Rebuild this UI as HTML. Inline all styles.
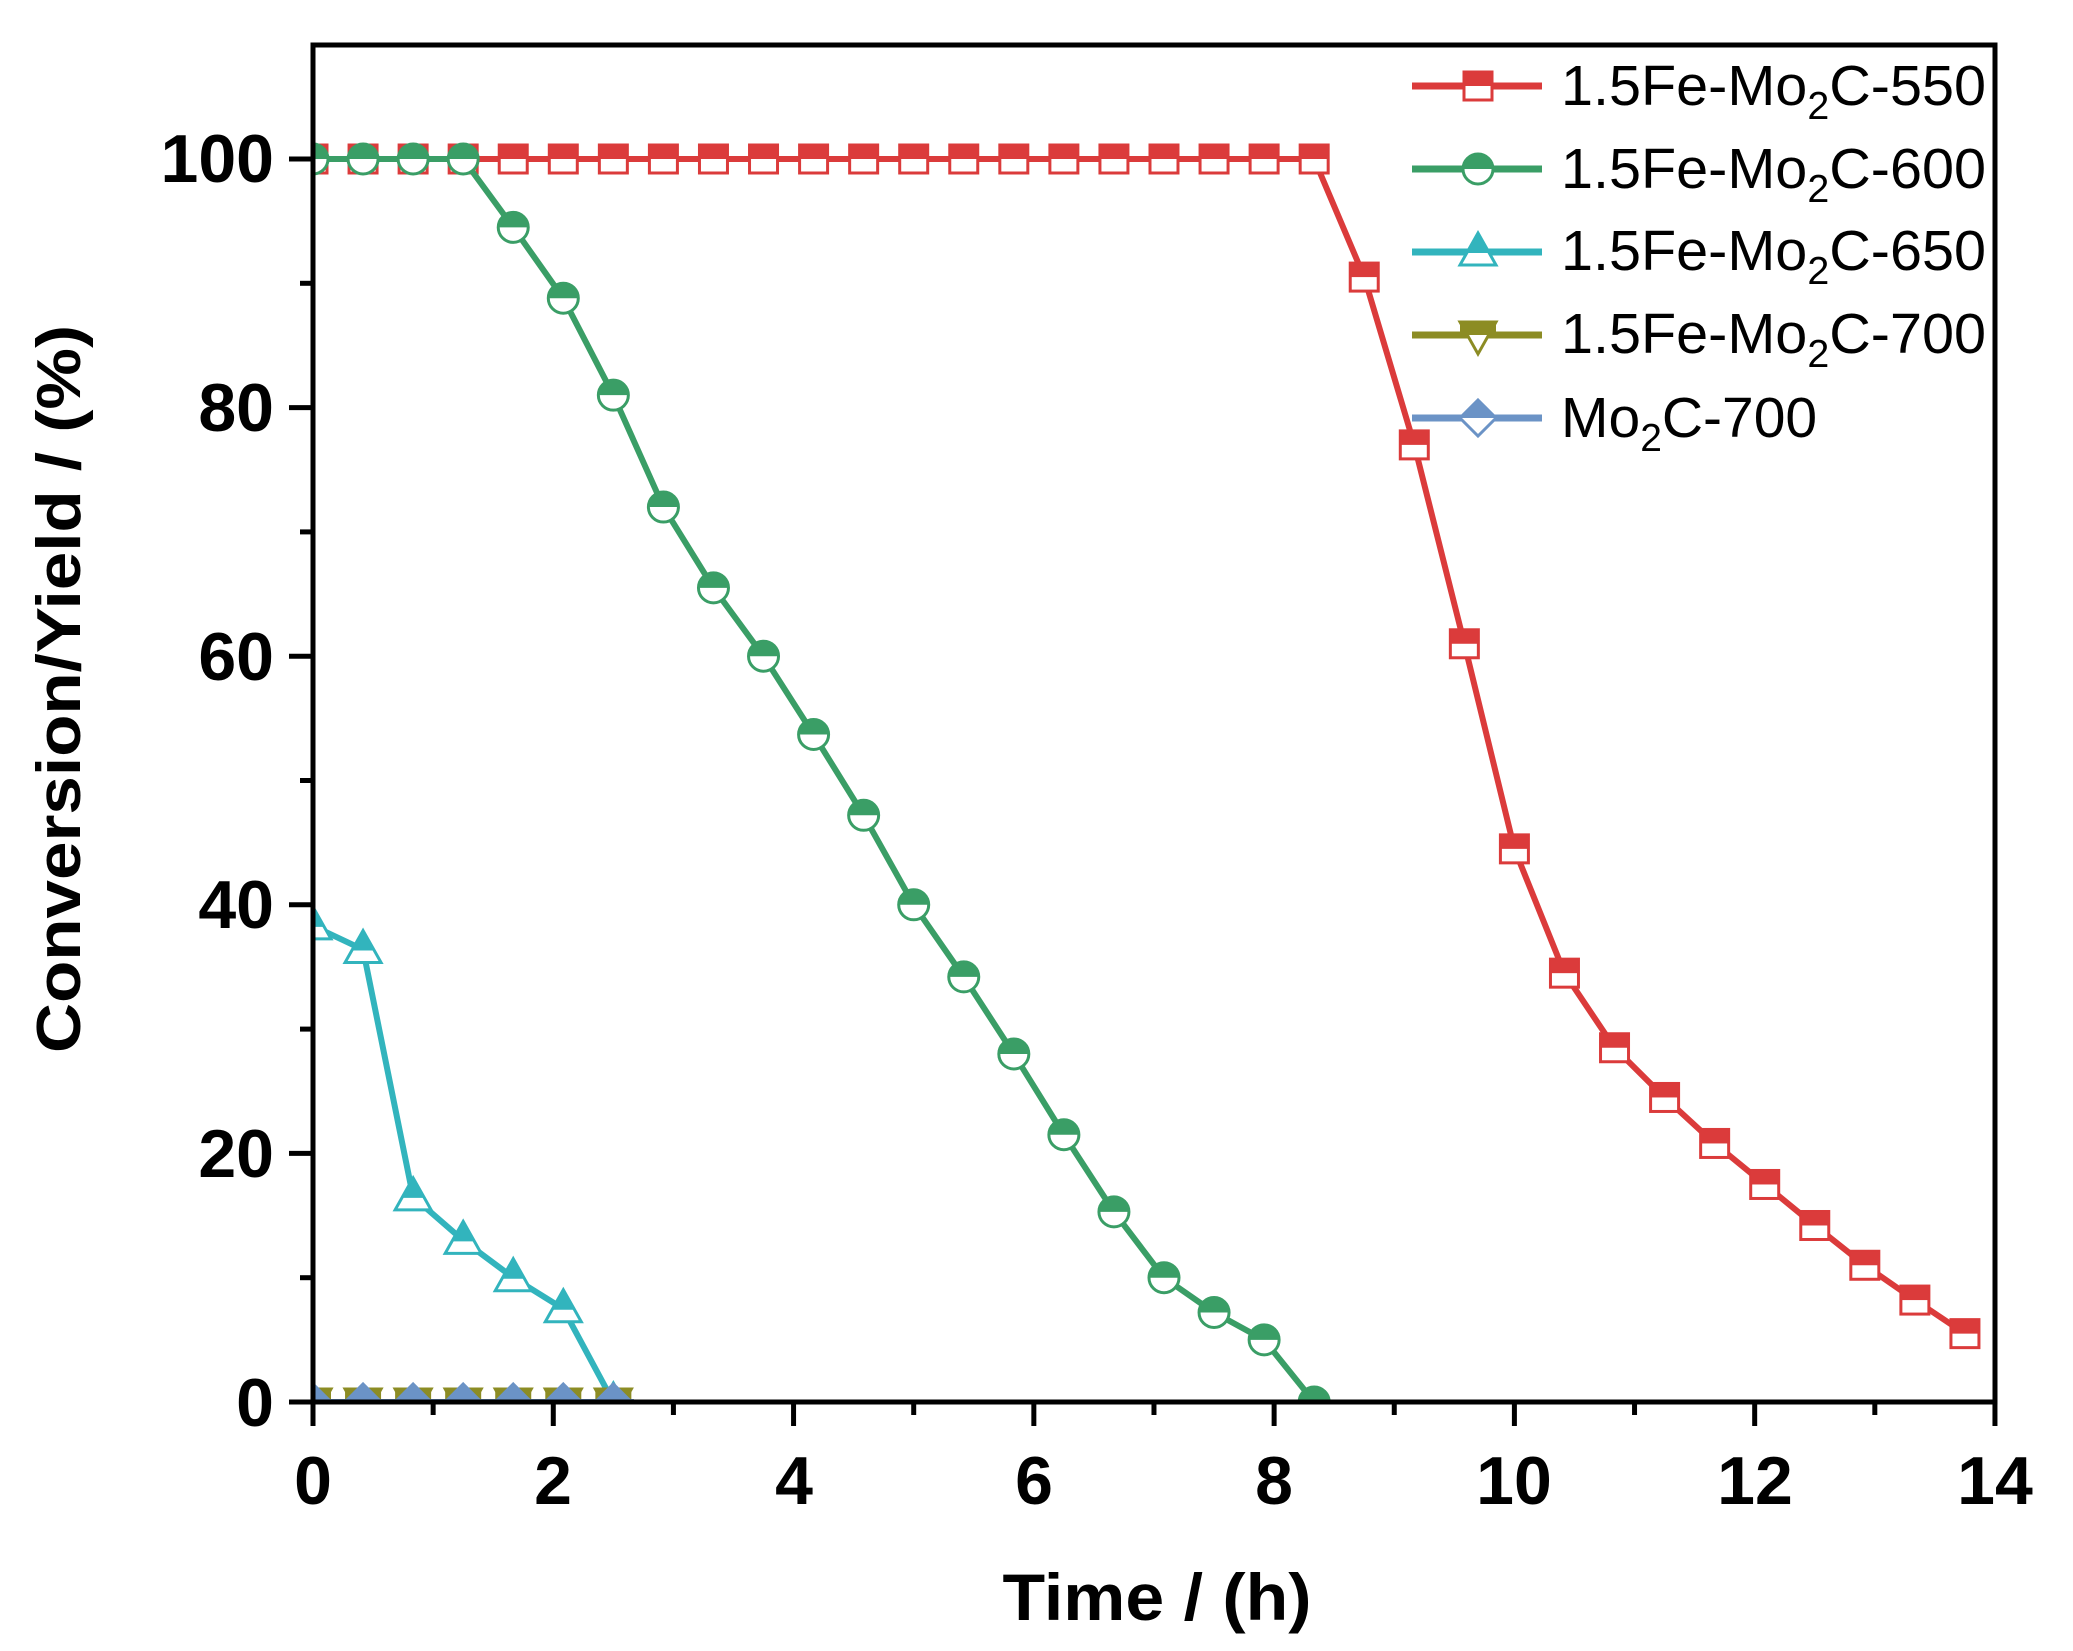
<!DOCTYPE html>
<html><head><meta charset="utf-8"><style>
html,body{margin:0;padding:0;background:#fff;}
svg{display:block;}
text{font-family:"Liberation Sans",Arial,sans-serif;}
</style></head><body>
<svg id="s" width="2073" height="1651" viewBox="0 0 2073 1651" xmlns="http://www.w3.org/2000/svg">
<defs><clipPath id="cp"><rect x="313" y="45" width="1682" height="1357"/></clipPath></defs>
<g id="data" clip-path="url(#cp)"></g>
<rect x="313" y="45" width="1682" height="1357" fill="none" stroke="#000" stroke-width="5"/>
<g id="ticks" stroke="#000" stroke-width="5"></g>
<g font-weight="bold" font-size="68" fill="#000" text-anchor="middle">
<text x="313" y="1504">0</text><text x="553" y="1504">2</text><text x="794" y="1504">4</text><text x="1034" y="1504">6</text><text x="1274" y="1504">8</text><text x="1514" y="1504">10</text><text x="1755" y="1504">12</text><text x="1995" y="1504">14</text>
</g>
<g font-weight="bold" font-size="68" fill="#000" text-anchor="end">
<text x="274" y="1426">0</text><text x="274" y="1177">20</text><text x="274" y="928">40</text><text x="274" y="680">60</text><text x="274" y="431">80</text><text x="274" y="182">100</text>
</g>
<text x="1157" y="1620" font-weight="bold" font-size="66" text-anchor="middle" textLength="309" lengthAdjust="spacingAndGlyphs">Time / (h)</text>
<text transform="translate(80,689) rotate(-90)" font-weight="bold" font-size="62" text-anchor="middle" textLength="728" lengthAdjust="spacingAndGlyphs">Conversion/Yield / (%)</text>
<g id="leg"></g>
<g font-size="57" fill="#000">
<text x="1561" y="105" textLength="425" lengthAdjust="spacingAndGlyphs">1.5Fe-Mo<tspan font-size="39" dy="14">2</tspan><tspan dy="-14">C-550</tspan></text>
<text x="1561" y="188" textLength="425" lengthAdjust="spacingAndGlyphs">1.5Fe-Mo<tspan font-size="39" dy="14">2</tspan><tspan dy="-14">C-600</tspan></text>
<text x="1561" y="270" textLength="425" lengthAdjust="spacingAndGlyphs">1.5Fe-Mo<tspan font-size="39" dy="14">2</tspan><tspan dy="-14">C-650</tspan></text>
<text x="1561" y="353" textLength="425" lengthAdjust="spacingAndGlyphs">1.5Fe-Mo<tspan font-size="39" dy="14">2</tspan><tspan dy="-14">C-700</tspan></text>
<text x="1561" y="437">Mo<tspan font-size="39" dy="14">2</tspan><tspan dy="-14">C-700</tspan></text>
</g>
</svg>
<script>
const NS="http://www.w3.org/2000/svg";
const X=t=>313+t*120.14, Y=v=>1402-v*12.43;
function el(p,tag,a){const e=document.createElementNS(NS,tag);for(const k in a)e.setAttribute(k,a[k]);p.appendChild(e);return e;}
const ticks=document.getElementById('ticks');
for(let i=0;i<=14;i++){const x=X(i);el(ticks,'line',{x1:x,y1:1402,x2:x,y2:1402+(i%2?13:24)});}
for(let v=0;v<=100;v+=10){const y=Y(v);el(ticks,'line',{x1:313,y1:y,x2:313-(v%20?13:24),y2:y});}
const st=0.41667;
function idx(n,o){return Array.from({length:n},(_,i)=>(i+(o||0))*st);}
const red={c:'#db3b3b',m:'sq',t:idx(34),v:[]};
for(let i=0;i<21;i++)red.v.push(100);
red.v.push(90.5,77,61,44.5,34.5,28.5,24.5,20.8,17.5,14.2,11,8.2,5.5);
const green={c:'#3a9e66',m:'ci',t:idx(21),v:[100,100,100,100,94.5,88.8,81,72,65.5,60,53.7,47.2,40,34.2,28,21.5,15.3,10,7.2,5,0]};
const cyan={c:'#32b4bd',m:'tr',t:idx(7),v:[38.3,36.4,16.5,13,10,7.5,0]};
const olive={c:'#8c8c24',m:'dt',t:idx(7),v:[0,0,0,0,0,0,0],ext:2.67};
const blue={c:'#6b93c6',m:'di',t:idx(7),v:[0,0,0,0,0,0,0],ext:2.67};
const data=document.getElementById('data');
function marker(g,m,c,x,y){
 if(m==='sq'){el(g,'rect',{x:x-14,y:y-14,width:28,height:28,fill:'#fff',stroke:c,'stroke-width':3});el(g,'rect',{x:x-14,y:y-14,width:28,height:14,fill:c});}
 else if(m==='ci'){el(g,'circle',{cx:x,cy:y,r:15,fill:'#fff',stroke:c,'stroke-width':3});el(g,'path',{d:`M${x-15},${y} A15,15 0 0 1 ${x+15},${y} Z`,fill:c});}
 else if(m==='tr'){el(g,'path',{d:`M${x},${y-19} L${x+18},${y+13} L${x-18},${y+13} Z`,fill:'#fff',stroke:c,'stroke-width':3});el(g,'path',{d:`M${x},${y-19} L${x+11},${y+1} L${x-11},${y+1} Z`,fill:c});}
 else if(m==='dt'){el(g,'path',{d:`M${x-18},${y-13} L${x+18},${y-13} L${x},${y+19} Z`,fill:'#fff',stroke:c,'stroke-width':3});el(g,'rect',{x:x-18,y:y-13,width:36,height:13,fill:c});}
 else if(m==='di'){el(g,'path',{d:`M${x},${y-18} L${x+18},${y} L${x},${y+18} L${x-18},${y} Z`,fill:'#fff',stroke:c,'stroke-width':3});el(g,'path',{d:`M${x},${y-18} L${x+18},${y} L${x-18},${y} Z`,fill:c});}
}
[red,green,cyan,olive,blue].forEach(s=>{
 let pts=s.t.map((t,i)=>X(t)+','+Y(s.v[i]));
 if(s.ext)pts.push(X(s.ext)+','+Y(0));
 el(data,'polyline',{points:pts.join(' '),fill:'none',stroke:s.c,'stroke-width':6,'stroke-linejoin':'round'});
 s.t.forEach((t,i)=>marker(data,s.m,s.c,X(t),Y(s.v[i])));
});
const leg=document.getElementById('leg');
[red,green,cyan,olive,blue].forEach((s,i)=>{const y=86+i*83;
 el(leg,'line',{x1:1412,y1:y,x2:1542,y2:y,stroke:s.c,'stroke-width':7});
 marker(leg,s.m,s.c,1478,y);});
</script>
</body></html>
